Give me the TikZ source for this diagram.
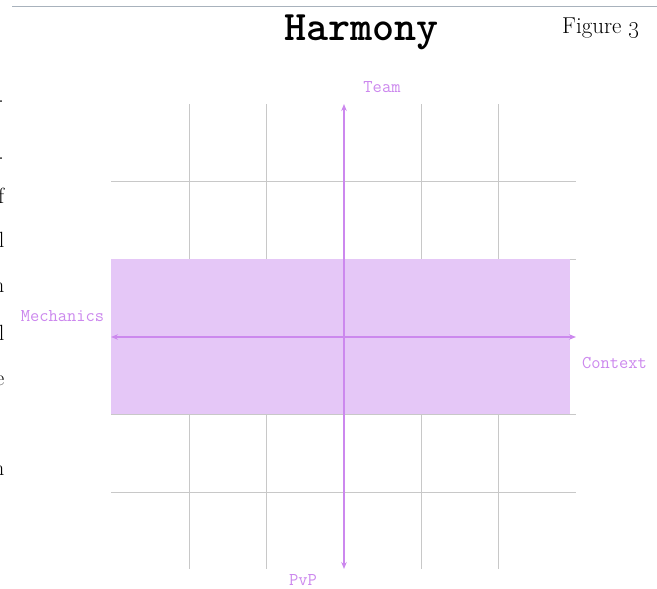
\documentclass[tikz,border=0pt]{standalone}
\usetikzlibrary{arrows.meta}
\definecolor{gridgray}{HTML}{C8C8C8}
\definecolor{bandfill}{HTML}{E5C7F7}
\definecolor{axiscol}{HTML}{CC88EE}
\definecolor{rulecol}{HTML}{A8B2BC}
\begin{document}
\begin{tikzpicture}[x=1pt,y=-1pt,
  gridline/.style={gridgray, line width=1pt},
  axisline/.style={axiscol, line width=1.5pt, {Stealth[length=7pt,width=5.5pt]}-{Stealth[length=7pt,width=5.5pt]}},
  axislabel/.style={text=axiscol, font=\ttfamily\fontsize{18}{20}\selectfont, inner sep=0pt},
  edgeglyph/.style={font=\fontsize{22}{24}\selectfont, anchor=base east, inner sep=0pt}]
\useasboundingbox (0,0) rectangle (657,589);
\fill[white] (0,0) rectangle (657,589);
% top rule
\coordinate (ruleL) at (12,6.5);
\coordinate (ruleR) at (657,6.5);
\draw[rulecol, line width=1.2pt] (ruleL) -- (ruleR);
% cropped text at left edge
\node[edgeglyph] (g1) at (4,102) {.};
\node[edgeglyph] (g2) at (4,159) {.};
\node[edgeglyph] (g3) at (4.5,203) {f};
\node[edgeglyph] (g4) at (4.5,247) {l};
\node[edgeglyph] (g5) at (4.5,292) {n};
\node[edgeglyph] (g6) at (4.5,340) {l};
\node[edgeglyph] (g7) at (4.5,385) {e};
\node[edgeglyph] (g8) at (4.5,475) {n};
% title
\node[anchor=base, inner sep=0pt, font=\ttfamily\bfseries\fontsize{42}{44}\selectfont] (title) at (361.5,41) {Harmony};
\node[anchor=base, inner sep=0pt, font=\fontsize{23}{25}\selectfont] (fig) at (601,34) {Figure \oldstylenums{3}};
% grid
\foreach \x in {189,266,421,498} \draw[gridline] (\x,104) -- (\x,569);
\foreach \y in {181,259,414,492} \draw[gridline] (111,\y) -- (576,\y);
% band
\fill[bandfill] (111,259) rectangle (570,414);
% axes
\coordinate (top) at (344,104);
\coordinate (bottom) at (344,569);
\coordinate (left) at (111,337);
\coordinate (right) at (576,337);
\draw[axisline] (bottom) -- (top);
\draw[axisline] (left) -- (right);
% labels
\node[axislabel] (team) at (382,87) {Team};
\node[axislabel] (pvp) at (303,580) {PvP};
\node[axislabel] (mech) at (62.5,316) {Mechanics};
\node[axislabel] (ctx) at (614.5,363) {Context};
\end{tikzpicture}
\end{document}
